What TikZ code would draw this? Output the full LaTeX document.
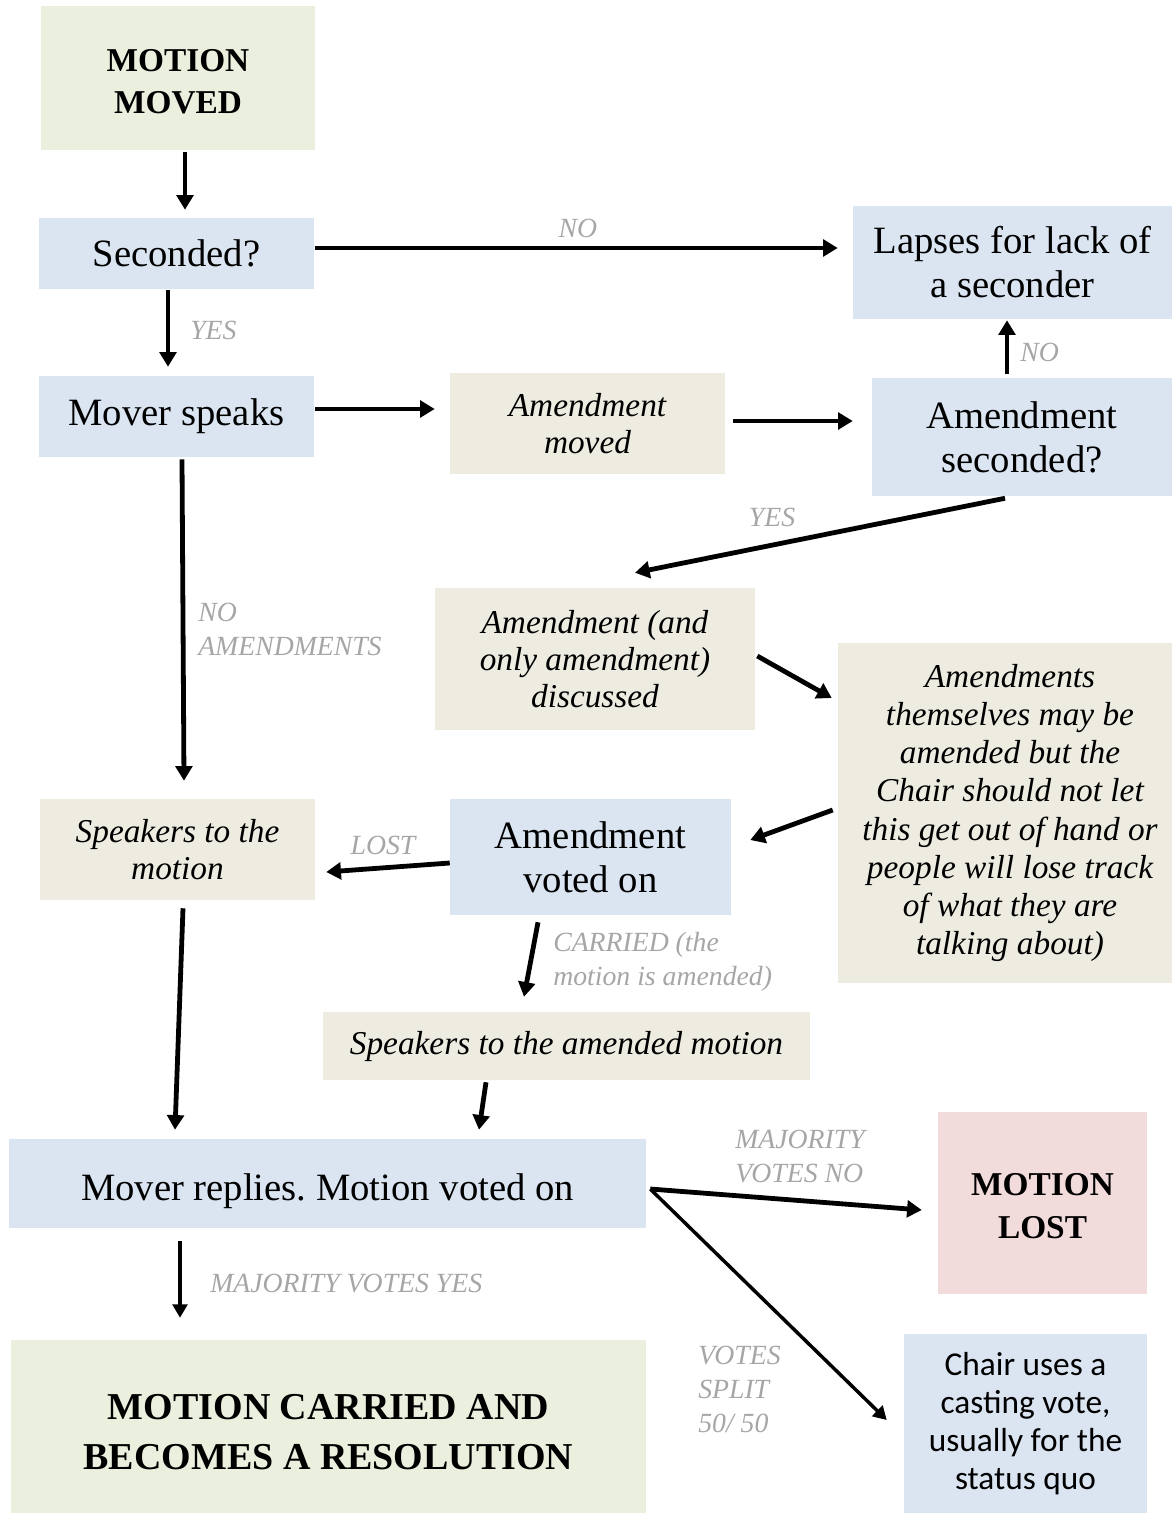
\documentclass[tikz,border=0pt]{standalone}
\usepackage{fontspec}
\setmainfont{Liberation Serif}
\newfontfamily\calfont{Carlito}
\usetikzlibrary{arrows.meta,calc}
\frenchspacing
\newdimen\px \px=0.75pt
\definecolor{bluefill}{HTML}{DBE5F1}
\definecolor{tanfill}{HTML}{EEECE1}
\definecolor{greenfill}{HTML}{EBF0DE}
\definecolor{pinkfill}{HTML}{F2DCDB}
\definecolor{labelgrey}{HTML}{A6A6A6}
\tikzset{
  box/.style={rectangle, inner sep=0pt, align=center},
  bluebox/.style={box, fill=bluefill, font=\fontsize{29}{33}\selectfont},
  tanbox/.style={box, fill=tanfill, font=\fontsize{25}{28}\selectfont\itshape},
  greenbox/.style={box, fill=greenfill, font=\fontsize{25}{31.5}\selectfont\bfseries},
  pinkbox/.style={box, fill=pinkfill, font=\fontsize{25}{32}\selectfont\bfseries},
  bigbox/.style={box, fill=greenfill, font=\fontsize{28.5}{37.5}\selectfont\bfseries},
  chairbox/.style={box, fill=bluefill, font=\fontsize{25}{28.3}\selectfont\calfont},
  lbl/.style={inner sep=0pt, text=labelgrey, font=\fontsize{20.8}{25.5}\selectfont\itshape, align=left},
  arr/.style={line width=3.6pt, -{Triangle[length=11pt,width=12.5pt]}},
  thinarr/.style={line width=2.6pt, -{Triangle[length=10pt,width=11pt]}}
}
\begin{document}
\begin{tikzpicture}[x=0.75pt,y=-0.75pt]
\useasboundingbox (0,0) rectangle (1172,1515);
% boxes
\node[greenbox, minimum width=274\px, minimum height=144\px] (mm) at (178,78) {\raisebox{-3pt}[\height][\depth]{\parbox{200\px}{\centering MOTION\\MOVED}}};
\node[bluebox, minimum width=275\px, minimum height=71\px] (sec) at (176.5,253.5) {Seconded?};
\node[bluebox, minimum width=319\px, minimum height=113\px] (lap) at (1012.5,262.5) {Lapses for lack of\\a seconder};
\node[bluebox, minimum width=275\px, minimum height=81\px] (ms) at (176.5,416.5) {Mover speaks};
\node[tanbox, minimum width=275\px, minimum height=101\px] (am) at (587.5,423.5) {Amendment\\moved};
\node[bluebox, minimum width=300\px, minimum height=118\px] (asec) at (1022,437) {Amendment\\seconded?};
\node[tanbox, minimum width=320\px, minimum height=142\px] (adis) at (595,659) {Amendment (and\\only amendment)\\discussed};
\node[tanbox, minimum width=334\px, minimum height=340\px] (note) at (1005,813) {\hspace*{10\px}\parbox{320\px}{\centering\baselineskip=28.7pt Amendments\\themselves may be\\amended but the\\Chair should not let\\this get out of hand or\\people will lose track\\of what they are\\talking about)}};
\node[tanbox, minimum width=275\px, minimum height=101\px] (stm) at (177.5,849.5) {Speakers to the\\motion};
\node[bluebox, minimum width=281\px, minimum height=116\px] (avo) at (590.5,857) {Amendment\\voted on};
\node[tanbox, minimum width=487\px, minimum height=68\px] (sam) at (566.5,1046) {Speakers to the amended motion};
\node[bluebox, minimum width=637\px, minimum height=89\px] (mr) at (327.5,1183.5) {\raisebox{-6pt}[\height][\depth]{Mover replies. Motion voted on}};
\node[pinkbox, minimum width=209\px, minimum height=182\px] (lost) at (1042.5,1203) {\raisebox{-2.5pt}[\height][\depth]{\parbox{200\px}{\centering MOTION\\LOST}}};
\node[bigbox, minimum width=635\px, minimum height=173\px] (car) at (328.5,1426.5) {\raisebox{-4pt}[\height][\depth]{\parbox{620\px}{\centering MOTION CARRIED AND\\BECOMES A RESOLUTION}}};
\node[chairbox, minimum width=243\px, minimum height=179\px] (chair) at (1025.5,1423.5) {Chair uses a\\casting vote,\\usually for the\\status quo};
% connectors
\draw[arr] ($(mm.south)+(7,2)$) -- ($(sec.north)+(8.5,-8)$);
\draw[arr] ($(sec.east)+(1,-5.5)$) -- ($(lap.west)+(-15,-14.5)$);
\draw[arr] ($(sec.south)+(-8.5,1)$) -- ($(ms.north)+(-8.5,-9)$);
\draw[arr] ($(ms.east)+(1,-7.5)$) -- ($(am.west)+(-15,-14.5)$);
\draw[arr] ($(am.east)+(8,-2.5)$) -- ($(asec.west)+(-19,-16)$);
\draw[arr] ($(asec.north)+(-15,-4)$) -- ($(lap.south)+(-5.5,1)$);
\draw[arr] ($(asec.south)+(-17,2)$) -- ($(adis.north)+(40,-15)$);
\draw[arr] ($(adis.east)+(2,-3)$) -- ($(note.west)+(-6,-115)$);
\draw[arr] ($(note.west)+(-5,-3)$) -- ($(avo.east)+(19,-17)$);
\draw[arr] ($(ms.south)+(5.5,2)$) -- ($(stm.north)+(6.5,-18)$);
\draw[arr] ($(avo.west)+(0,6)$) -- ($(stm.east)+(11,22.5)$);
\draw[arr] ($(avo.south)+(-52.5,7)$) -- ($(sam.north)+(-42.5,-15)$);
\draw[arr] ($(stm.south)+(5.5,8)$) -- ($(mr.north)+(-152.5,-9)$);
\draw[arr] ($(sam.south)+(-80.5,2)$) -- ($(mr.north)+(151.5,-9)$);
\draw[arr] ($(mr.east)+(4,5.5)$) -- ($(lost.west)+(-16,7)$);
\draw[thinarr] ($(mr.east)+(4,5.5)$) -- ($(chair.west)+(-17,-3.5)$);
\draw[thinarr] ($(mr.south)+(-147.5,13)$) -- ($(car.north)+(-148.5,-22)$);
% labels
\node[lbl] (l1) at (578,228) {NO};
\node[lbl, anchor=west] (l2) at (190,330) {YES};
\node[lbl, anchor=west] (l3) at (1020,352) {NO};
\node[lbl] (l4) at (772,517) {YES};
\node[lbl, anchor=west] (l5) at (198,629) {NO\\AMENDMENTS};
\node[lbl] (l6) at (383,845) {LOST};
\node[lbl, anchor=west] (l7) at (553,962) {CARRIED (the\\motion is amended)};
\node[lbl, anchor=west] (l8) at (735,1157) {MAJORITY\\VOTES NO};
\node[lbl, anchor=west] (l9) at (210,1284) {MAJORITY VOTES YES};
\node[lbl, anchor=west] (l10) at (698,1389) {VOTES\\SPLIT\\50/ 50};
\end{tikzpicture}
\end{document}
